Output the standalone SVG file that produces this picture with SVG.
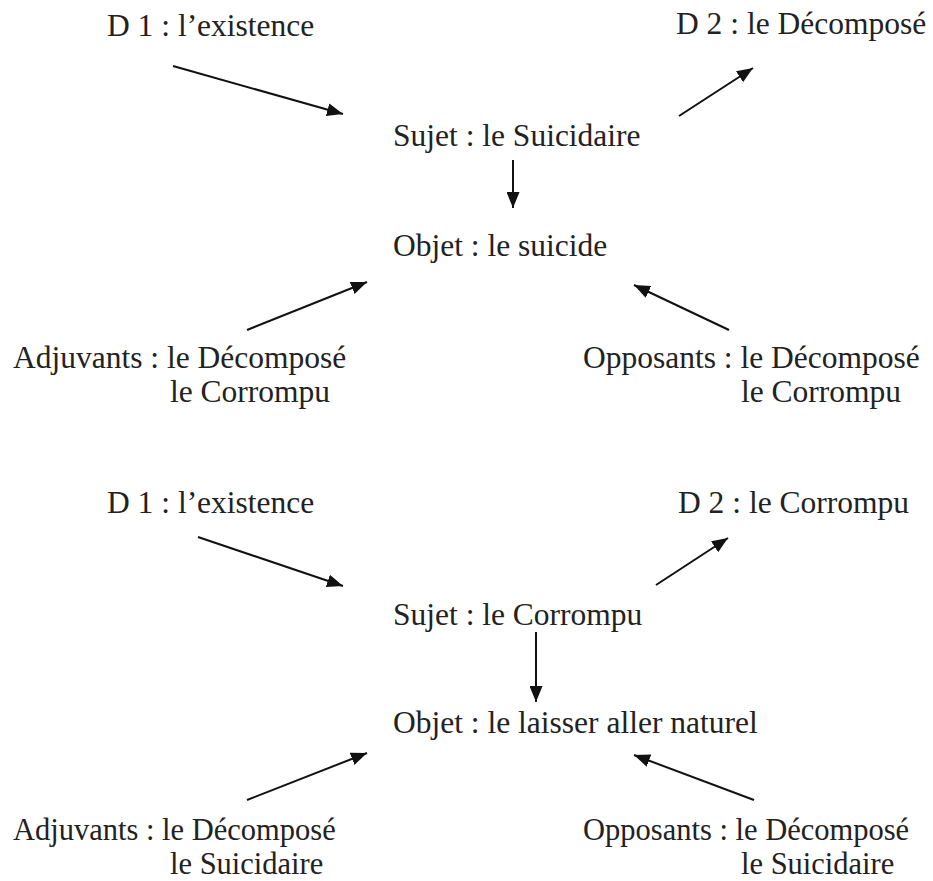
<svg xmlns="http://www.w3.org/2000/svg" width="933" height="881" viewBox="0 0 933 881">
<style>
text { font-family: "Liberation Serif", "Times New Roman", serif; font-size: 31.5px; fill: #222; }
.low text { font-size: 30.5px; }
.c { stroke: #111; stroke-width: 2; fill: none; marker-end: url(#ah); }
</style>
<defs>
<marker id="ah" markerUnits="userSpaceOnUse" markerWidth="17" markerHeight="13" refX="16" refY="6.5" orient="auto">
<path d="M0,0 L16,6.5 L0,13 z" fill="#111"/>
</marker>
</defs>
<rect width="933" height="881" fill="#fff"/>
<g id="connectors">
<line class="c" x1="173" y1="66" x2="343" y2="114"/>
<line class="c" x1="679" y1="116" x2="753" y2="68"/>
<line class="c" x1="513" y1="160" x2="513" y2="208"/>
<line class="c" x1="247" y1="330" x2="367" y2="282"/>
<line class="c" x1="729" y1="330" x2="634" y2="285"/>
<line class="c" x1="198" y1="537" x2="343" y2="586"/>
<line class="c" x1="656" y1="585" x2="728" y2="538"/>
<line class="c" x1="536" y1="632" x2="536" y2="702"/>
<line class="c" x1="247" y1="800" x2="367" y2="753"/>
<line class="c" x1="754" y1="800" x2="634" y2="755"/>
</g>
<g id="d1-top"><text x="107" y="36">D 1 : l’existence</text></g>
<g id="d2-top"><text x="676" y="34">D 2 : le Décomposé</text></g>
<g id="sujet-top"><text x="393" y="146">Sujet : le Suicidaire</text></g>
<g id="objet-top"><text x="393" y="256">Objet : le suicide</text></g>
<g id="adjuvants-top"><text x="13" y="368">Adjuvants : le Décomposé</text><text x="170" y="402">le Corrompu</text></g>
<g id="opposants-top"><text x="583" y="368">Opposants : le Décomposé</text><text x="741" y="402">le Corrompu</text></g>
<g id="d1-bottom"><text x="107" y="513">D 1 : l’existence</text></g>
<g id="d2-bottom"><text x="678" y="513">D 2 : le Corrompu</text></g>
<g id="sujet-bottom"><text x="393" y="625">Sujet : le Corrompu</text></g>
<g id="objet-bottom"><text x="393" y="733">Objet : le laisser aller naturel</text></g>
<g id="adjuvants-bottom" class="low"><text x="13" y="840">Adjuvants : le Décomposé</text><text x="170" y="874">le Suicidaire</text></g>
<g id="opposants-bottom" class="low"><text x="583" y="840">Opposants : le Décomposé</text><text x="741" y="874">le Suicidaire</text></g>
</svg>
